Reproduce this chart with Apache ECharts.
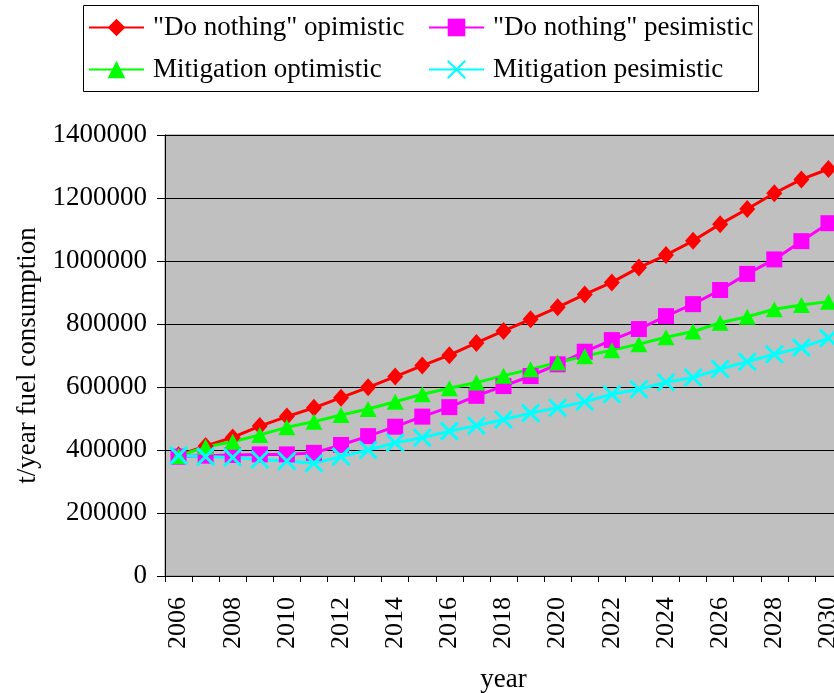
<!DOCTYPE html>
<html>
<head>
<meta charset="utf-8">
<title>Fuel consumption scenarios 2006–2030</title>
<script src="https://cdn.jsdelivr.net/npm/echarts@6/dist/echarts.min.js"></script>
<style>
  html, body { margin: 0; padding: 0; background: #ffffff; }
  #chart { width: 834px; height: 693px; }
</style>
</head>
<body>
<div id="chart"></div>
<script>
// Years on the category axis
const years = ['2006','2007','2008','2009','2010','2011','2012','2013','2014','2015','2016','2017','2018',
               '2019','2020','2021','2022','2023','2024','2025','2026','2027','2028','2029','2030'];

// Annual fuel consumption, t/year, for each scenario
const doNothingOptimistic = [383000, 413000, 440000, 476000, 506000, 534000, 566000, 599000, 633000, 668000,
  701000, 740000, 778000, 815000, 853000, 894000, 932000, 979000, 1019000, 1064000, 1117000, 1165000,
  1215000, 1259000, 1292000];
const doNothingPessimistic = [379000, 382000, 384000, 386000, 386000, 391000, 416000, 444000, 474000, 506000,
  536000, 572000, 603000, 635000, 672000, 712000, 749000, 784000, 825000, 863000, 908000, 959000,
  1005000, 1063000, 1120000];
const mitigationOptimistic = [381000, 410000, 426000, 448000, 472000, 490000, 511000, 530000, 553000, 577000,
  596000, 614000, 636000, 656000, 678000, 698000, 717000, 736000, 758000, 776000, 804000, 823000,
  847000, 860000, 871000];
const mitigationPessimistic = [382000, 379000, 376000, 370000, 365000, 358000, 379000, 400000, 423000, 439000,
  460000, 477000, 497000, 517000, 534000, 553000, 577000, 593000, 615000, 630000, 657000, 680000,
  704000, 725000, 755000];

const seriesNames = ['"Do nothing" opimistic', '"Do nothing" pesimistic', 'Mitigation optimistic', 'Mitigation pesimistic'];

const serif = '"Liberation Serif", "Times New Roman", serif';
const crossPath = 'path://M0,0L10,10M10,0L0,10';

function lineSeries(name, data, color, symbol, size, extraItem) {
  return {
    name: name,
    type: 'line',
    data: data,
    symbol: symbol,
    symbolSize: size,
    showAllSymbol: true,
    lineStyle: { color: color, width: 3 },
    itemStyle: Object.assign({ color: color }, extraItem || {}),
    emphasis: { disabled: true },
    animation: false
  };
}

const chart = echarts.init(document.getElementById('chart'), null, { renderer: 'canvas' });

const legendText = { fontFamily: serif, fontSize: 27, color: '#000', lineHeight: 26, padding: [0, 0, 0, 4] };

chart.setOption({
  backgroundColor: '#ffffff',
  animation: false,
  graphic: [{
    type: 'rect',
    z: 0,
    shape: { x: 83.5, y: 5.5, width: 675, height: 86 },
    style: { fill: '#ffffff', stroke: '#000000', lineWidth: 1 }
  }],
  legend: [{
    data: [seriesNames[0], seriesNames[2]],
    orient: 'vertical',
    left: 88, top: 14,
    padding: 0,
    itemWidth: 55, itemHeight: 22, itemGap: 15,
    textStyle: legendText,
    selectedMode: false,
    z: 5
  }, {
    data: [seriesNames[1], seriesNames[3]],
    orient: 'vertical',
    left: 428, top: 14,
    padding: 0,
    itemWidth: 55, itemHeight: 22, itemGap: 15,
    textStyle: legendText,
    selectedMode: false,
    z: 5
  }],
  grid: {
    left: 165, top: 135, right: -8, bottom: 117,
    show: true,
    backgroundColor: '#c0c0c0',
    borderColor: '#808080',
    borderWidth: 1,
    outerBoundsMode: 'none',
    containLabel: false
  },
  xAxis: {
    type: 'category',
    data: years,
    boundaryGap: true,
    name: 'year',
    nameLocation: 'middle',
    nameGap: 90,
    nameTextStyle: { fontFamily: serif, fontSize: 27, color: '#000' },
    axisLine: { show: true, lineStyle: { color: '#000', width: 1 } },
    axisTick: { show: true, interval: 0, length: 6, lineStyle: { color: '#000' } },
    axisLabel: {
      interval: 1,
      rotate: 90,
      margin: 21,
      fontFamily: serif,
      fontSize: 26,
      color: '#000'
    },
    splitLine: { show: false }
  },
  yAxis: {
    type: 'value',
    min: 0, max: 1400000, interval: 200000,
    name: 't/year fuel consumption',
    nameLocation: 'middle',
    nameGap: 119,
    nameRotate: 90,
    nameTextStyle: { fontFamily: serif, fontSize: 27, color: '#000' },
    axisLine: { show: true, lineStyle: { color: '#000', width: 1 } },
    axisTick: { show: true, length: 8, lineStyle: { color: '#000' } },
    axisLabel: {
      margin: 18, fontFamily: serif, fontSize: 27, color: '#000',
      formatter: function (v) { return String(v); }
    },
    splitLine: { show: true, lineStyle: { color: '#000', width: 1 } }
  },
  series: [
    lineSeries(seriesNames[0], doNothingOptimistic, '#ff0000', 'diamond', [16, 18]),
    lineSeries(seriesNames[1], doNothingPessimistic, '#ff00ff', 'rect', 16),
    lineSeries(seriesNames[2], mitigationOptimistic, '#00ff00', 'triangle', [17, 16]),
    lineSeries(seriesNames[3], mitigationPessimistic, '#00ffff', crossPath, 17,
      { borderColor: '#00ffff', borderWidth: 3 })
  ]
});
</script>
</body>
</html>
